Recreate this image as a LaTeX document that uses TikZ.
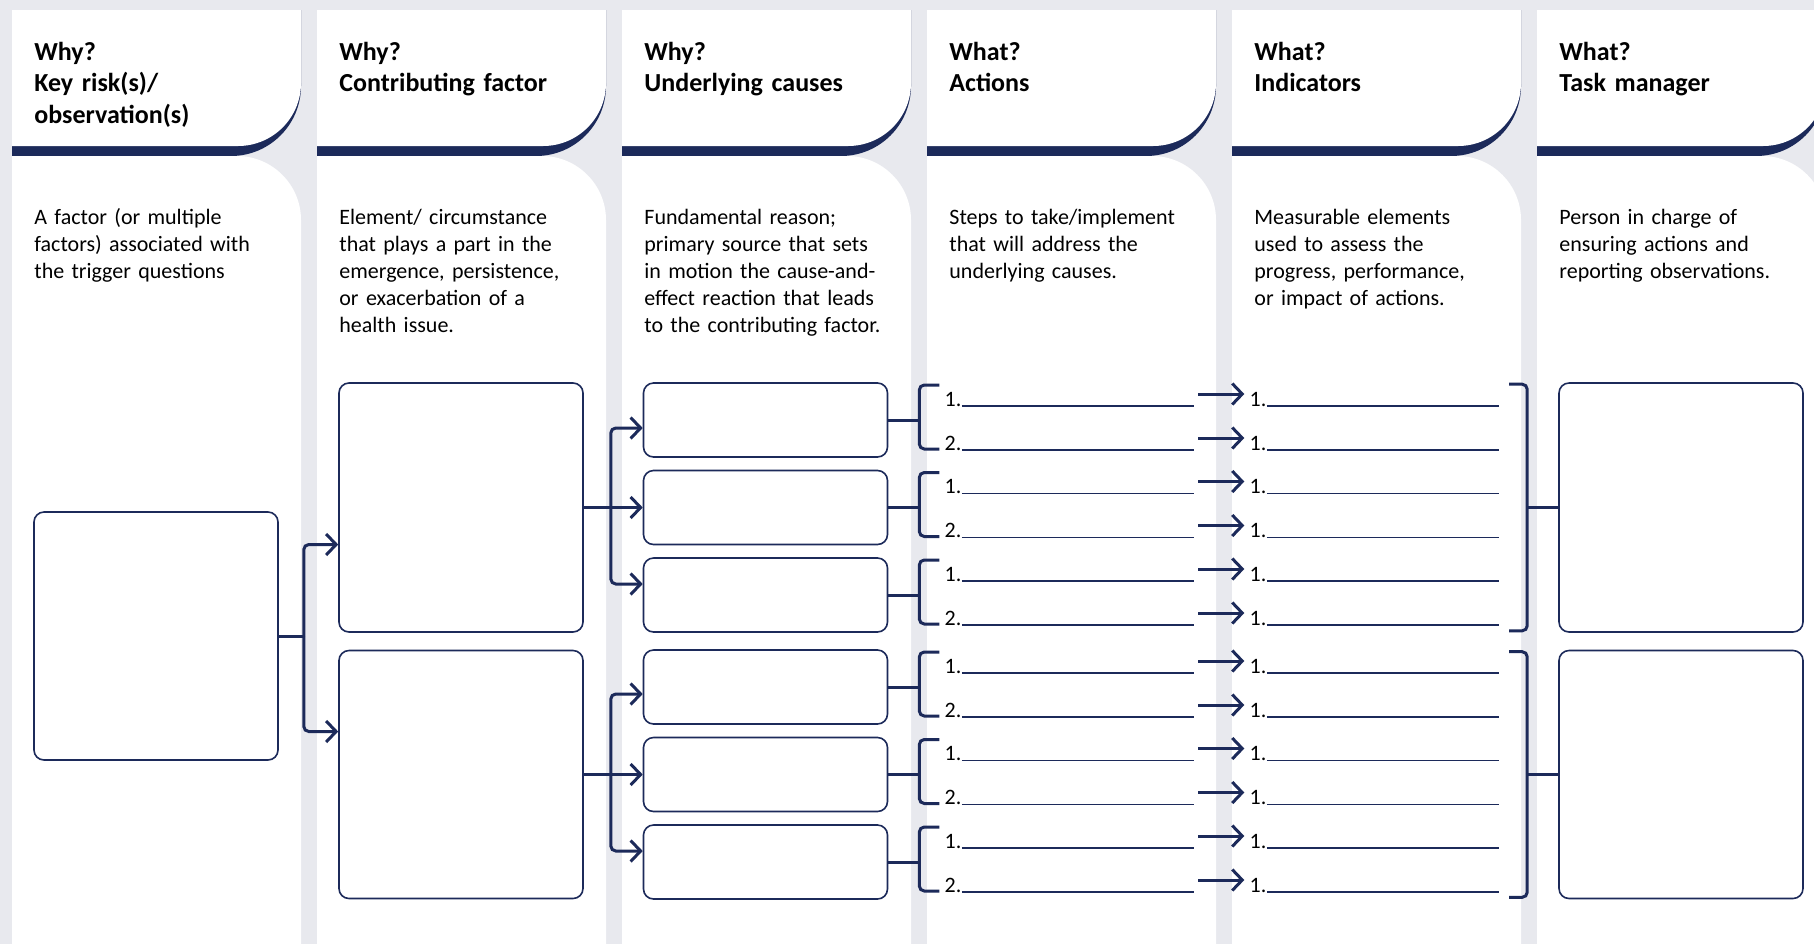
\documentclass[tikz,border=0pt]{standalone}
\usepackage{fontspec}
\setmainfont{Carlito}
\usetikzlibrary{calc,arrows.meta}

\begin{document}
\begin{tikzpicture}[x=0.5pt,y=-0.5pt,
		link/.style={draw=navy1,line width=1.5pt,rounded corners=2.5pt},
		tip/.style={-{Straight Barb[length=5pt,width=10.5pt]}},
		cell/.style={draw=navy1,line width=0.8pt,rounded corners=5pt,fill=white,minimum width=122pt,inner sep=0pt},
		blank/.style={draw=navy1,line width=0.7pt},
		item/.style={inner sep=0pt,anchor=base west,font=\fontsize{11}{13}\selectfont},
		title/.style={inner sep=0pt,anchor=base west,align=left,text width=135pt,font=\bfseries\fontsize{13}{15.75}\selectfont},
		note/.style={inner sep=0pt,anchor=base west,align=left,text width=135pt,font=\fontsize{11}{13.5}\selectfont}]
	\definecolor{navy1}{HTML}{1C2A5A}
	\definecolor{gray1}{HTML}{E8E9EE}
	\useasboundingbox (0,0) rectangle (1814,944);
	\fill[gray1] (0,0) rectangle (1814,944);
	% six columns: header tab with navy edge, body with round shoulder
	\begin{scope}
		\clip (0,0) rectangle (1814,944);
		\foreach \i in {0,...,5}{
			\pgfmathsetmacro{\l}{12+305*\i}
			\pgfmathsetmacro{\r}{\l+289}
			\fill[navy1] (\l,10) -- (\r,10) -- (\r,86) arc[start angle=0,end angle=90,radius=70] -- (\l,156) -- cycle;
			\fill[white] (\l,10) -- (\r,10) -- (\r,83) arc[start angle=0,end angle=90,radius=63] -- (\l,146) -- cycle;
			\fill[white] (\l,156) -- ({\r-64},156) arc[start angle=-90,end angle=0,radius=64] -- (\r,944) -- (\l,944) -- cycle;
		}
	\end{scope}

	\node[title] (h1) at (34,60) {Why?\\Key risk(s)/\\observation(s)};
	\node[title] (h2) at (339,60) {Why?\\Contributing factor};
	\node[title] (h3) at (644,60) {Why?\\Underlying causes};
	\node[title] (h4) at (949,60) {What?\\Actions};
	\node[title] (h5) at (1254,60) {What?\\Indicators};
	\node[title] (h6) at (1559,60) {What?\\Task manager};

	\node[note] (d1) at (34,224) {A factor (or multiple\\factors) associated with\\the trigger questions};
	\node[note] (d2) at (339,224) {Element/ circumstance\\that plays a part in the\\emergence, persistence,\\or exacerbation of a\\health issue.};
	\node[note] (d3) at (644,224) {Fundamental reason;\\primary source that sets\\in motion the cause-and-\\effect reaction that leads\\to the contributing factor.};
	\node[note] (d4) at (949,224) {Steps to take/implement\\that will address the\\underlying causes.};
	\node[note] (d5) at (1254,224) {Measurable elements\\used to assess the\\progress, performance,\\or impact of actions.};
	\node[note] (d6) at (1559,224) {Person in charge of\\ensuring actions and\\reporting observations.};

	% boxes
	\node[cell,minimum height=124pt] (risk) at (156,636) {};
	\node[cell,minimum height=124.5pt] (cf1) at (461,507.5) {};
	\node[cell,minimum height=124pt] (cf2) at (461,774.5) {};
	\foreach \n/\y in {1/420,2/507.5,3/595,4/687,5/774.5,6/862}
		\node[cell,minimum height=37pt] (uc\n) at (765.5,\y) {};
	\node[cell,minimum height=124.5pt] (tm1) at (1681,507.5) {};
	\node[cell,minimum height=124pt] (tm2) at (1681,774.5) {};

	% risk -> contributing factors
	\coordinate (j1) at ($(risk.east)+(25,0)$);
	\draw[link] (risk.east) -- (j1);
	\draw[link,tip] (j1) |- ($(cf1.west)+(0,37)$);
	\draw[link,tip] (j1) |- ($(cf2.west)+(0,-43)$);

	% contributing factors -> causes
	\coordinate (j2) at ($(cf1.east)+(27,0)$);
	\draw[link,tip] (cf1.east) -- (uc2.west);
	\draw[link,tip] (j2) |- ($(uc1.west)+(0,8)$);
	\draw[link,tip] (j2) |- ($(uc3.west)+(0,-11)$);
	\coordinate (j3) at ($(cf2.east)+(27,0)$);
	\draw[link,tip] (cf2.east) -- (uc5.west);
	\draw[link,tip] (j3) |- ($(uc4.west)+(0,7)$);
	\draw[link,tip] (j3) |- ($(uc6.west)+(0,-11)$);

	% actions and indicators, two per cause
	\foreach \n in {1,...,6}{
		\draw[link] (uc\n.east) -- ++(31,0) coordinate (b\n);
		\draw[link] ($(b\n)+(20,-35)$) -- ($(b\n)+(0,-35)$) -- ($(b\n)+(0,29)$) -- ($(b\n)+(20,29)$);
		\foreach \m/\dy/\k in {1/-14/1,2/30/2}{
			\node[item] (a\n\m) at ($(b\n)+(25,\dy)$) {\k.};
			\draw[blank] (a\n\m.base east) -- ($(b\n)+(275,\dy)$) coordinate (e\n\m);
			\node[item] (i\n\m) at ($(b\n)+(330,\dy)$) {1.};
			\draw[blank] (i\n\m.base east) -- ($(b\n)+(580,\dy)$);
			\draw[link,tip] ($(e\n\m)+(4,-12)$) -- ($(i\n\m.base west)+(-5,-12)$);
		}
	}

	% indicators -> task manager
	\foreach \t in {tm1,tm2}{
		\draw[link] ($(\t.north west)+(-49,2)$) -- ($(\t.north west)+(-31,2)$) -- ($(\t.south west)+(-31,-2)$) -- ($(\t.south west)+(-49,-2)$);
		\draw[link] ($(\t.west)+(-31,0)$) -- (\t.west);
	}
\end{tikzpicture}
\end{document}
